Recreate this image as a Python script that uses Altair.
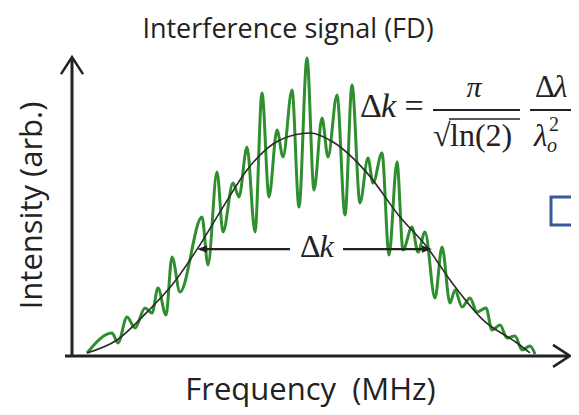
import altair as alt
import pandas as pd

# ---- data (frequency / intensity in arbitrary units) ----
sig_freq = [3.2, 8.2, 9.4, 11.2, 12.8, 14.8, 16.2, 17.4, 19.0, 20.2, 21.8, 26.2, 27.4,
            29.2, 30.4, 32.4, 33.6, 35.2, 36.8, 38.2, 39.6, 41.2, 42.4, 44.2, 45.6,
            47.2, 48.6, 50.2, 51.4, 53.2, 54.8, 56.2, 57.8, 59.4, 60.4, 62.2, 63.6,
            65.2, 66.4, 68.2, 69.4, 70.8, 72.8, 74.2, 75.8, 76.8, 78.2, 79.8, 81.2,
            83.0, 84.2, 85.8, 87.2, 88.8, 90.2, 91.8, 92.8]
sig_int = [0.7, 7.3, 4.0, 12.7, 9.0, 15.7, 14.0, 22.3, 13.3, 32.7, 21.0, 46.0, 30.0,
           61.0, 41.0, 57.3, 52.7, 69.3, 41.0, 87.3, 52.7, 75.0, 66.0, 88.3, 49.3,
           99.0, 55.0, 79.0, 66.0, 86.7, 46.7, 90.0, 50.7, 65.7, 57.3, 67.3, 33.3,
           64.3, 35.0, 42.7, 34.3, 41.0, 19.0, 36.0, 17.3, 21.7, 16.0, 19.0, 14.3,
           15.7, 8.3, 10.0, 5.7, 6.3, 1.7, 3.0, 0.3]

env_freq = [3.2, 9.2, 15.2, 20.2, 25.4, 30.4, 35.2, 41.8, 47.8, 52.4, 59.2, 65.8,
            71.2, 75.8, 82.4, 89.2, 91.8]
env_int = [0.7, 5.0, 14.3, 23.3, 35.7, 49.3, 61.7, 71.7, 74.0, 71.0, 60.7, 46.0,
           36.0, 25.0, 11.7, 4.0, 0.7]

title_text = "Interference signal (FD)"
x_title = "Frequency\u00a0\u00a0(MHz)"
y_title = "Intensity (arb.)"

sig = pd.DataFrame({"freq": sig_freq, "intensity": sig_int})
env = pd.DataFrame({"freq": env_freq, "intensity": env_int})
one = pd.DataFrame({"k": [0]})

INK = "#222222"
SANS = "Open Sans"
SERIF = "Liberation Serif"

xs = alt.Scale(domain=[0, 100], nice=False, zero=False)
ys = alt.Scale(domain=[0, 100], nice=False, zero=False)

x_axis = alt.Axis(domain=False, ticks=False, labels=False, grid=False, title=x_title,
                  titleFont=SANS, titleFontSize=31, titleFontWeight="normal",
                  titleColor=INK, titleX=239, titleY=44, titleBaseline="alphabetic",
                  titleAlign="center")
y_axis = alt.Axis(domain=False, ticks=False, labels=False, grid=False, title=y_title,
                  titleFont=SANS, titleFontSize=31, titleFontWeight="normal",
                  titleColor=INK, titleX=-30, titleY=150, titleAngle=270,
                  titleBaseline="alphabetic", titleAlign="center")

signal = alt.Chart(sig).mark_line(color="#2f8f2f", strokeWidth=3, interpolate="monotone").encode(
    x=alt.X("freq:Q", scale=xs, axis=x_axis),
    y=alt.Y("intensity:Q", scale=ys, axis=y_axis),
)
envelope = alt.Chart(env).mark_line(color="#2a2a2a", strokeWidth=1.6, interpolate="monotone").encode(
    x="freq:Q", y="intensity:Q"
)


def txt(s, x, y, size, font=SANS, style="normal", align="center", color=INK):
    return alt.Chart(one).mark_text(text=s, font=font, fontSize=size, fontStyle=style,
                                    align=align, baseline="alphabetic", color=color).encode(
        x=alt.datum(x), y=alt.datum(y))


def hrule(x1, x2, y, w, color=INK):
    return alt.Chart(one).mark_rule(color=color, strokeWidth=w).encode(
        x=alt.datum(x1), x2=alt.datum(x2), y=alt.datum(y))


def vrule(x, y1, y2, w, color=INK):
    return alt.Chart(one).mark_rule(color=color, strokeWidth=w).encode(
        x=alt.datum(x), y=alt.datum(y1), y2=alt.datum(y2))


def head(path, x, y, size, filled, w=2.5):
    return alt.Chart(one).mark_point(shape=path, size=size, filled=filled, opacity=1,
                                     color=INK, strokeWidth=w).encode(
        x=alt.datum(x), y=alt.datum(y))


# chart title (placed above the plot area)
title = txt(title_text, 43.4, 105.8, 27)

# axes drawn as arrows
axes = [
    vrule(0.2, -0.7, 98.6, 3),
    hrule(-1.2, 99.6, -0.3, 3),
    head("M-1.1,1.7L0,0L1.1,1.7", 0.2, 99.3, 400, False),
    head("M-1.7,-1.1L0,0L-1.7,1.1", 99.8, -0.3, 400, False),
]

# delta-k double arrow with label
dk = [
    hrule(25.8, 43.8, 35.3, 2.2),
    hrule(54.4, 71.4, 35.3, 2.2),
    head("M0,0L1.7,-0.6L1.7,0.6Z", 25.2, 35.3, 144, True, 1),
    head("M0,0L-1.7,-0.6L-1.7,0.6Z", 72.2, 35.3, 144, True, 1),
    txt("Δ", 45.8, 32.7, 32, font=SERIF, align="left"),
    txt("k", 49.7, 32.7, 32, font=SERIF, style="italic", align="left"),
]

# formula
formula = [
    txt("Δ", 57.8, 79.3, 34, font=SERIF, align="left"),
    txt("k", 62.0, 79.3, 34, font=SERIF, style="italic", align="left"),
    txt("=", 68.6, 79.3, 34, font=SERIF),
    hrule(72.4, 89.8, 81.7, 2),
    txt("π", 80.6, 86.0, 30, font=SERIF, style="italic"),
    txt("√", 72.4, 69.7, 32, font=SERIF, align="left"),
    hrule(75.6, 89.8, 78.7, 1.5),
    txt("ln(2)", 75.8, 69.7, 32, font=SERIF, align="left"),
    txt("Δ", 92.8, 86.0, 31, font=SERIF, align="left"),
    txt("λ", 96.6, 86.0, 31, font=SERIF, style="italic", align="left"),
    hrule(91.8, 100.0, 81.7, 2),
    txt("λ", 92.6, 69.7, 31, font=SERIF, style="italic", align="left"),
    txt("o", 95.2, 67.7, 20, font=SERIF, style="italic", align="left"),
    txt("2", 95.6, 74.7, 20, font=SERIF, align="left"),
]

# partially visible blue box at the right edge
box = alt.Chart(one).mark_rect(fill="white", stroke="#3b5998", strokeWidth=3).encode(
    x=alt.datum(96.0), x2=alt.datum(106.0), y=alt.datum(52.7), y2=alt.datum(43.3))

chart = alt.layer(signal, envelope, title, *axes, *dk, *formula, box).properties(
    width=500, height=300,
    autosize=alt.AutoSizeParams(type="none"),
    padding={"left": 63, "top": 47, "right": 0, "bottom": 52},
).configure_view(stroke=None)

chart.save("out.html", embed_options={"renderer": "svg", "actions": False})
